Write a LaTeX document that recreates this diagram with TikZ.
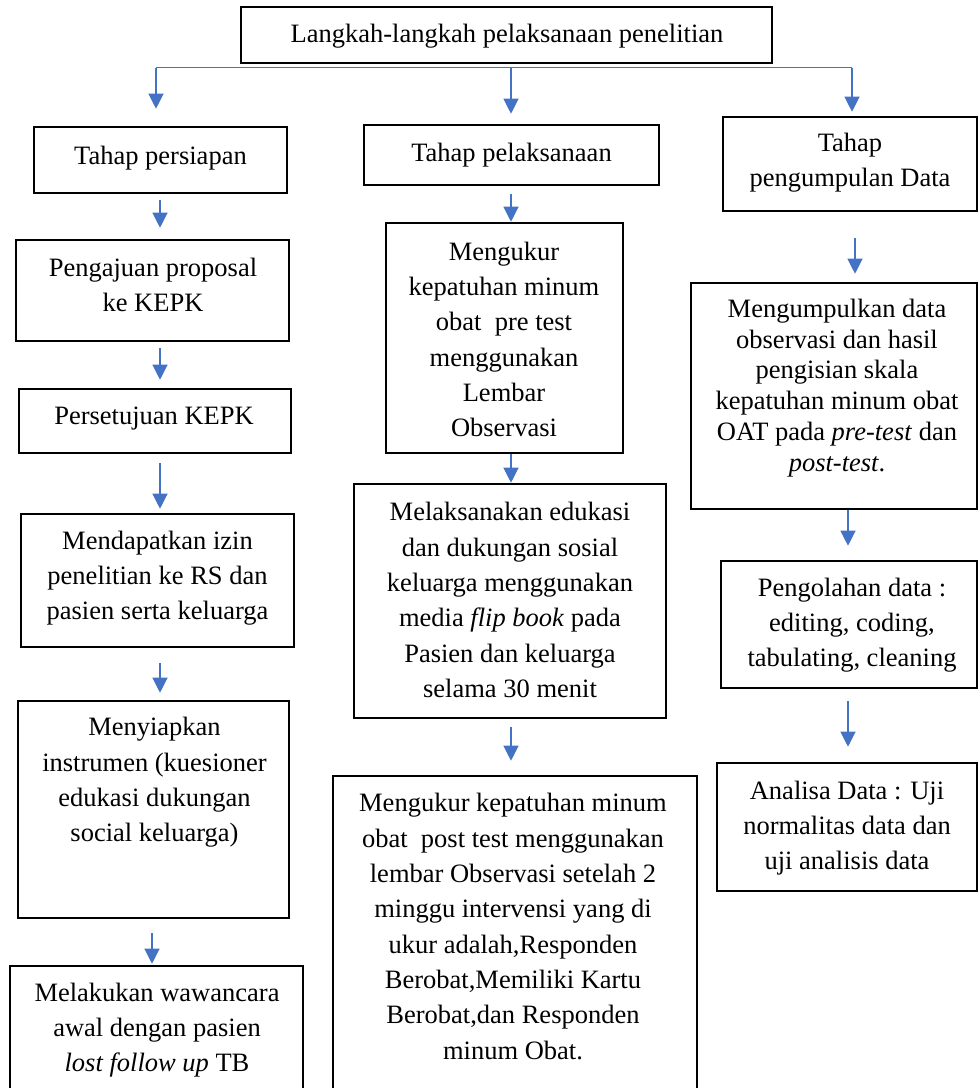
\documentclass[tikz,border=0pt]{standalone}
\usepackage{fontspec}
\setmainfont{Liberation Serif}
\usetikzlibrary{arrows.meta,calc}
\definecolor{myblue}{HTML}{4472C4}
\tikzset{
  box/.style={draw=black, line width=2.6pt, inner sep=0pt, rectangle},
  txt/.style={align=center, inner sep=0pt, font=\fontsize{26.5}{35.3}\selectfont},
  txtb/.style={align=center, inner sep=0pt, font=\fontsize{26.5}{30.8}\selectfont},
  conn/.style={draw=myblue, line width=1.2pt},
  arr/.style={draw=myblue, line width=1.2pt, -{Triangle[width=15pt,length=15pt]}}
}
\begin{document}
\begin{tikzpicture}[x=1pt,y=-1pt]
\useasboundingbox (0,0) rectangle (978,1088);
\fill[white] (0,0) rectangle (978,1088);
\begin{scope}
\clip (0,0) rectangle (978,1088);
% boxes
\node[box, minimum width=531pt, minimum height=56pt] (top) at (506.5,35) {};
\node[box, minimum width=253pt, minimum height=66pt] (persiapan) at (160.5,160) {};
\node[box, minimum width=295pt, minimum height=60pt] (pelaksanaan) at (511.5,155) {};
\node[box, minimum width=254pt, minimum height=94pt] (pengumpulan) at (850,164) {};
\node[box, minimum width=273pt, minimum height=101pt] (pengajuan) at (152.5,290.5) {};
\node[box, minimum width=272pt, minimum height=64pt] (persetujuan) at (155,421) {};
\node[box, minimum width=273pt, minimum height=133pt] (mendapatkan) at (157.5,580.5) {};
\node[box, minimum width=271pt, minimum height=217pt] (menyiapkan) at (153.5,809.5) {};
\node[box, minimum width=293pt, minimum height=144pt] (melakukan) at (156.5,1038) {};
\node[box, minimum width=237pt, minimum height=230pt] (pre) at (504.5,338) {};
\node[box, minimum width=312pt, minimum height=234pt] (melaksanakan) at (510,601) {};
\node[box, minimum width=364pt, minimum height=334pt] (post) at (515,943) {};
\node[box, minimum width=286pt, minimum height=226pt] (mengumpulkan) at (834,396) {};
\node[box, minimum width=256pt, minimum height=127pt] (pengolahan) at (849,624.5) {};
\node[box, minimum width=260pt, minimum height=128pt] (analisa) at (847,827) {};
% texts
\node[txt] (t-top) at (507,36) {Langkah-langkah pelaksanaan penelitian};
\node[txt] (t-persiapan) at (160.5,158) {Tahap persiapan};
\node[txt] (t-pelaksanaan) at (511.5,155) {Tahap pelaksanaan};
\node[txt] (t-pengumpulan) at (850,163) {Tahap\\pengumpulan Data};
\node[txt] (t-pengajuan) at (153,285) {Pengajuan proposal\\ke KEPK};
\node[txt] (t-persetujuan) at (154,419) {Persetujuan KEPK};
\node[txt] (t-mendapatkan) at (157.5,578) {Mendapatkan izin\\penelitian ke RS dan\\pasien serta keluarga};
\node[txt] (t-menyiapkan) at (154.5,782.5) {Menyiapkan\\instrumen (kuesioner\\edukasi dukungan\\social keluarga)};
\node[txt] (t-melakukan) at (157,1030) {Melakukan wawancara\\awal dengan pasien\\\textit{lost follow up} TB};
\node[txt] (t-pre) at (504,339.5) {Mengukur\\kepatuhan minum\\obat\ \ pre test\\menggunakan\\Lembar\\Observasi};
\node[txt] (t-melaksanakan) at (510,600) {Melaksanakan edukasi\\dan dukungan sosial\\keluarga menggunakan\\media \textit{flip book} pada\\Pasien dan keluarga\\selama 30 menit};
\node[txt] (t-post) at (513,926.5) {Mengukur kepatuhan minum\\obat\ \ post test menggunakan\\lembar Observasi setelah 2\\minggu intervensi yang di\\ukur adalah,Responden\\Berobat,Memiliki Kartu\\Berobat,dan Responden\\minum Obat.};
\node[txtb] (t-mengumpulkan) at (837,388) {Mengumpulkan data\\observasi dan hasil\\pengisian skala\\kepatuhan minum obat\\OAT pada \textit{pre-test} dan\\\textit{post-test}.};
\node[txt] (t-pengolahan) at (852,625) {Pengolahan data :\\editing, coding,\\tabulating, cleaning};
\node[txt] (t-analisa) at (847,828) {Analisa Data : Uji\\normalitas data dan\\uji analisis data};
% x positions of connectors
\coordinate (xa) at (156,0);
\coordinate (xb) at (511,0);
\coordinate (xc) at (852,0);
\coordinate (xl) at (160,0);
\coordinate (xl5) at (152,0);
\coordinate (xr1) at (855,0);
\coordinate (xr) at (848,0);
% top distribution line
\coordinate (jA) at ($(top.south -| xa)+(0,3.5)$);
\coordinate (jB) at ($(top.south -| xb)+(0,3.5)$);
\coordinate (jC) at ($(top.south -| xc)+(0,3.5)$);
\draw[conn] (jA) -- (jC);
\draw[arr, shorten >=17pt] (jA) -- (persiapan.north -| jA);
\draw[arr, shorten >=10pt] (jB) -- (pelaksanaan.north -| jB);
\draw[arr, shorten >=4pt] (jC) -- (pengumpulan.north -| jC);
% left column
\draw[arr, shorten <=6pt, shorten >=11pt] (persiapan.south -| xl) -- (pengajuan.north -| xl);
\draw[arr, shorten <=6pt, shorten >=8pt] (pengajuan.south -| xl) -- (persetujuan.north -| xl);
\draw[arr, shorten <=9pt, shorten >=4pt] (persetujuan.south -| xl) -- (mendapatkan.north -| xl);
\draw[arr, shorten <=15pt, shorten >=7pt] (mendapatkan.south -| xl) -- (menyiapkan.north -| xl);
\draw[arr, shorten <=14pt, shorten >=1pt] (menyiapkan.south -| xl5) -- (melakukan.north -| xl5);
% center column
\draw[arr, shorten <=8pt] (pelaksanaan.south -| xb) -- (pre.north -| xb);
\draw[arr] (pre.south -| xb) -- (melaksanakan.north -| xb);
\draw[arr, shorten <=8pt, shorten >=14pt] (melaksanakan.south -| xb) -- (post.north -| xb);
% right column
\draw[arr, shorten <=26pt, shorten >=8pt] (pengumpulan.south -| xr1) -- (mengumpulkan.north -| xr1);
\draw[arr, shorten >=14pt] (mengumpulkan.south -| xr) -- (pengolahan.north -| xr);
\draw[arr, shorten <=12pt, shorten >=15pt] (pengolahan.south -| xr) -- (analisa.north -| xr);
\end{scope}
\end{tikzpicture}
\end{document}
